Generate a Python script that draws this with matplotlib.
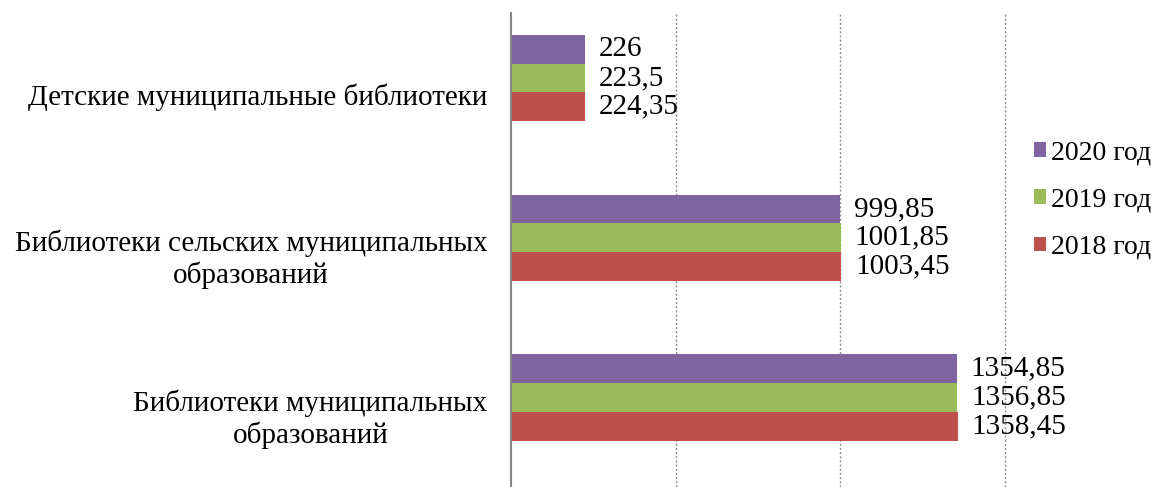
import numpy as np
import matplotlib
matplotlib.use('Agg')
import matplotlib.pyplot as plt
import matplotlib.transforms as mtransforms

plt.rcParams['font.family'] = ['Liberation Serif', 'DejaVu Serif']

# categories from bottom to top (as matplotlib draws barh)
categories = ['Библиотеки муниципальных\nобразований',
              'Библиотеки сельских муниципальных\nобразований',
              'Детские муниципальные библиотеки']
years = ['2018 год', '2019 год', '2020 год']
vals_2018 = [1358.45, 1003.45, 224.35]
vals_2019 = [1356.85, 1001.85, 223.5]
vals_2020 = [1354.85, 999.85, 226]
colors = ['#C0504D', '#9BBB59', '#8064A2']

fs = 21
fig = plt.figure(figsize=(11.53, 4.87), dpi=100)
ax = fig.add_axes([511/1153, 0, (1004.5-511)/1153, 1-13/487])

y = np.arange(len(categories))
h = 0.18
bars = []
for k, (vals, col) in enumerate(zip([vals_2018, vals_2019, vals_2020], colors)):
    b = ax.barh(y + (k-1)*h, vals, height=h, color=col, label=years[k], zorder=3)
    bars.append(b)
    labels = [('%g' % v).replace('.', ',') for v in vals]
    ax.bar_label(b, labels=labels, padding=10, fontsize=fs)

ax.set_xlim(0, 1500)
ax.set_ylim(-0.559, 2.406)
ax.set_xticks([500, 1000, 1500])
ax.tick_params(axis='x', length=0, labelbottom=False)
ax.grid(axis='x', linestyle=(0, (1.5, 1.5)), color='#8c8c8c', linewidth=1, zorder=0)
for gl in ax.get_xgridlines():
    gl.set_clip_on(False)
ax.set_yticks(y)
ax.set_yticklabels(categories, fontsize=fs, multialignment='center', linespacing=1.22)
ax.tick_params(axis='y', length=0, pad=17)
shift = mtransforms.ScaledTranslation(0, -0.16, fig.dpi_scale_trans)
for lab in ax.get_yticklabels():
    lab.set_transform(lab.get_transform() + shift)
for s in ['top', 'right', 'bottom']:
    ax.spines[s].set_visible(False)
ax.spines['left'].set_color('#868686')
ax.spines['left'].set_linewidth(1.5)
ax.spines['left'].set_zorder(4)

handles = [bars[2], bars[1], bars[0]]
fig.legend(handles, [years[2], years[1], years[0]], loc='center left',
           bbox_to_anchor=(1034/1153, 1-200/487), frameon=False, fontsize=20,
           borderpad=0, borderaxespad=0,
           handlelength=0.42, handleheight=0.42, handletextpad=0.2, labelspacing=0.8)

fig.savefig('out.png', dpi=100)
